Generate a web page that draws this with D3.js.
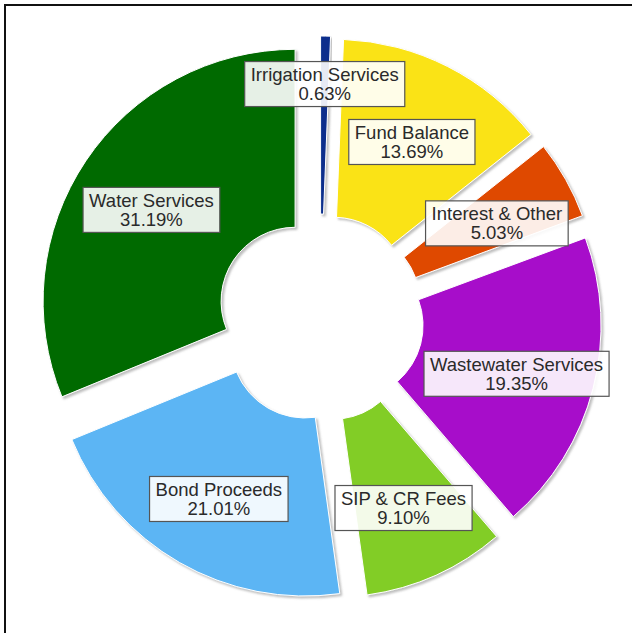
<!DOCTYPE html>
<html>
<head>
<meta charset="utf-8">
<script src="https://cdn.jsdelivr.net/npm/d3@7"></script>
<style>
  html, body { margin: 0; padding: 0; background: #fff; }
  svg { display: block; }
</style>
</head>
<body>
<svg id="chart" width="632" height="633"></svg>
<script>
// Revenue sources, clockwise from 12 o'clock
const categories = [
  "Irrigation Services",
  "Fund Balance",
  "Interest & Other",
  "Wastewater Services",
  "SIP & CR Fees",
  "Bond Proceeds",
  "Water Services"
];
const percents = [0.63, 13.69, 5.03, 19.35, 9.10, 21.01, 31.19];
const colors = ["#0b2f8c", "#fae318", "#df4906", "#a711ca", "#82cd28", "#5bb5f4", "#046a05"];

const width = 632, height = 633;
const cx = 320, cy = 318;
const outerR = 252, innerR = 74;
const explode = 30;      // every slice pulled out from the centre
const labelR = 173;      // label distance from a slice's own centre
const labelDy = 5;       // labels sit a little below the centroid line

const svg = d3.select("#chart");

// page frame: top and left rules
svg.append("path")
  .attr("d", `M5,${height} L5,5 L${width},5`)
  .attr("fill", "none")
  .attr("stroke", "#111")
  .attr("stroke-width", 2);

const defs = svg.append("defs");
const shadow = defs.append("filter").attr("id", "shade")
  .attr("x", "-10%").attr("y", "-10%").attr("width", "120%").attr("height", "120%");
shadow.append("feDropShadow")
  .attr("dx", 2).attr("dy", 2).attr("stdDeviation", 1.2)
  .attr("flood-color", "#888").attr("flood-opacity", 0.55);

const data = categories.map((c, i) => ({ name: c, value: percents[i], color: colors[i] }));

const pie = d3.pie().sort(null).value(d => d.value).startAngle(0).endAngle(2 * Math.PI);
const arcs = pie(data);

const arc = d3.arc().innerRadius(innerR).outerRadius(outerR);

const g = svg.append("g").attr("transform", `translate(${cx},${cy})`);

function dir(a) { return [Math.sin(a), -Math.cos(a)]; }

arcs.forEach(a => {
  const mid = (a.startAngle + a.endAngle) / 2;
  const [ux, uy] = dir(mid);
  a.ox = ux * explode;
  a.oy = uy * explode;
  a.mid = mid;
});

g.selectAll("path.slice")
  .data(arcs)
  .join("path")
  .attr("class", "slice")
  .attr("transform", d => `translate(${d.ox},${d.oy})`)
  .attr("d", arc)
  .attr("fill", d => d.data.color)
  .attr("stroke", "#fff")
  .attr("stroke-width", 1)
  .attr("filter", "url(#shade)");

// labels: two lines in a framed box
const fontSize = 18.5, lineH = 19, padX = 6, padY = 3.5;
const labelLayer = g.append("g");

const labels = arcs.map(a => {
  const grp = labelLayer.append("g");
  const rect = grp.append("rect");
  const text = grp.append("text")
    .attr("text-anchor", "middle")
    .attr("font-family", "'Liberation Sans', Arial, sans-serif")
    .attr("font-size", fontSize)
    .attr("fill", "#2a2a2a");
  text.append("tspan").attr("x", 0).attr("y", -lineH / 2 + 6.5).text(a.data.name);
  text.append("tspan").attr("x", 0).attr("y", lineH / 2 + 6.5).text(a.data.value.toFixed(2) + "%");
  const bb = text.node().getBBox();
  const w = bb.width + padX * 2, h = lineH * 2 + padY * 2;
  rect.attr("x", -w / 2).attr("y", -h / 2).attr("width", w).attr("height", h)
    .attr("fill", "#fff").attr("fill-opacity", 0.9)
    .attr("stroke", "#555").attr("stroke-width", 1.2);
  return { a, grp, w, h, x: 0, y: 0 };
});

// place large slices first; push smaller ones outward until their boxes clear
const gap = 12;
function overlaps(p, q) {
  return Math.abs(p.x - q.x) < (p.w + q.w) / 2 + gap &&
         Math.abs(p.y - q.y) < (p.h + q.h) / 2 + gap;
}
const placed = [];
labels.slice().sort((p, q) => q.a.value - p.a.value).forEach(l => {
  const [ux, uy] = dir(l.a.mid);
  let r = labelR;
  do {
    l.x = l.a.ox + ux * r;
    l.y = l.a.oy + uy * r + labelDy;
    r += 1;
  } while (placed.some(p => overlaps(l, p)) && r < 400);
  placed.push(l);
  l.grp.attr("transform", `translate(${l.x},${l.y})`);
});
</script>
</body>
</html>
